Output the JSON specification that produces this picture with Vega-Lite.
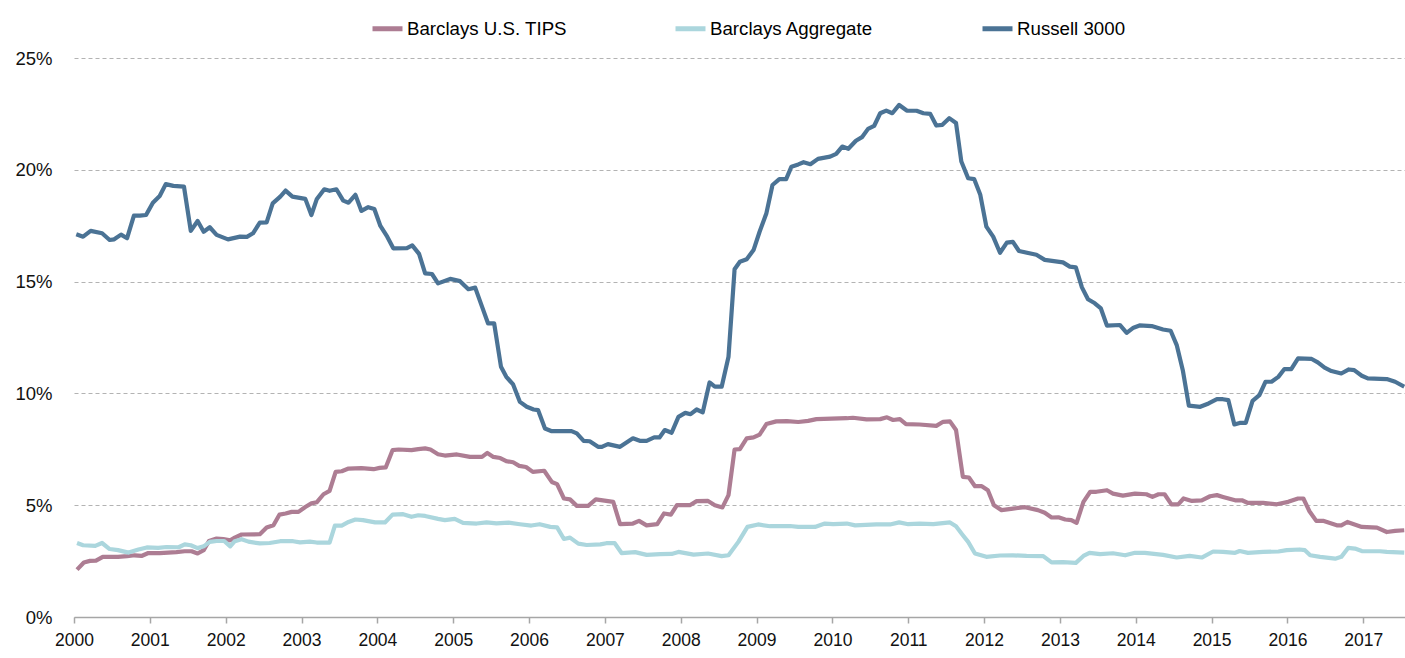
{
  "$schema": "https://vega.github.io/schema/vega-lite/v6.json",
  "autosize": {"type": "none"},
  "width": 1331,
  "height": 559,
  "padding": {"left": 74, "top": 58, "right": 0, "bottom": 41},
  "background": "white",
  "config": {
    "view": {"stroke": null},
    "font": "Liberation Sans, Arial, sans-serif"
  },
  "datasets": {
    "russell": [
      [2000.03,17.12],[2000.12,17.01],[2000.22,17.27],[2000.37,17.16],[2000.47,16.86],[2000.53,16.89],[2000.62,17.10],[2000.70,16.94],[2000.79,17.95],[2000.87,17.95],[2000.95,17.98],
      [2001.04,18.53],[2001.13,18.83],[2001.21,19.36],[2001.31,19.28],[2001.45,19.25],[2001.54,17.27],[2001.63,17.71],[2001.71,17.23],[2001.79,17.43],[2001.88,17.09],
      [2002.03,16.89],[2002.19,17.01],[2002.28,17.00],[2002.36,17.16],[2002.45,17.64],[2002.54,17.65],[2002.62,18.50],[2002.72,18.80],[2002.79,19.07],[2002.88,18.80],
      [2003.05,18.70],[2003.13,17.98],[2003.20,18.68],[2003.30,19.13],[2003.37,19.06],[2003.46,19.13],[2003.55,18.62],[2003.62,18.53],[2003.71,18.88],[2003.79,18.16],[2003.88,18.33],[2003.96,18.25],
      [2004.04,17.49],[2004.13,17.01],[2004.21,16.49],[2004.39,16.50],[2004.46,16.62],[2004.55,16.24],[2004.63,15.37],[2004.72,15.34],[2004.80,14.92],[2004.96,15.12],
      [2005.09,15.02],[2005.20,14.66],[2005.29,14.73],[2005.38,13.88],[2005.46,13.13],[2005.54,13.13],[2005.63,11.19],[2005.70,10.74],[2005.79,10.40],[2005.88,9.62],[2005.97,9.40],
      [2006.06,9.28],[2006.12,9.25],[2006.21,8.43],[2006.30,8.31],[2006.56,8.31],[2006.63,8.21],[2006.72,7.88],[2006.80,7.86],[2006.91,7.61],[2006.96,7.61],
      [2007.04,7.73],[2007.20,7.61],[2007.37,7.99],[2007.46,7.88],[2007.55,7.88],[2007.65,8.03],[2007.72,8.03],[2007.79,8.36],[2007.88,8.24],[2007.97,8.95],
      [2008.06,9.13],[2008.13,9.07],[2008.21,9.28],[2008.29,9.15],[2008.38,10.49],[2008.45,10.30],[2008.54,10.30],[2008.63,11.64],[2008.71,15.55],[2008.78,15.89],[2008.87,16.00],[2008.96,16.41],
      [2009.04,17.23],[2009.13,18.06],[2009.21,19.32],[2009.30,19.58],[2009.39,19.58],[2009.46,20.14],[2009.55,20.24],[2009.62,20.34],[2009.71,20.25],[2009.81,20.49],[2009.97,20.59],
      [2010.05,20.71],[2010.13,21.04],[2010.21,20.94],[2010.31,21.30],[2010.39,21.46],[2010.47,21.83],[2010.55,21.96],[2010.63,22.53],[2010.71,22.65],[2010.79,22.53],[2010.88,22.90],[2010.98,22.65],
      [2011.11,22.64],[2011.20,22.53],[2011.29,22.50],[2011.37,21.98],[2011.45,22.01],[2011.54,22.31],[2011.63,22.09],[2011.70,20.37],[2011.79,19.62],[2011.87,19.58],[2011.95,18.88],
      [2012.03,17.46],[2012.12,17.01],[2012.21,16.29],[2012.30,16.74],[2012.38,16.78],[2012.46,16.37],[2012.69,16.20],[2012.80,15.97],
      [2013.04,15.86],[2013.13,15.67],[2013.21,15.64],[2013.29,14.74],[2013.37,14.21],[2013.46,14.03],[2013.54,13.80],[2013.62,13.03],[2013.79,13.06],[2013.88,12.71],[2013.97,12.94],
      [2014.05,13.04],[2014.21,13.01],[2014.36,12.86],[2014.46,12.80],[2014.54,12.16],[2014.62,11.04],[2014.70,9.45],[2014.85,9.40],[2014.96,9.55],
      [2015.07,9.74],[2015.15,9.74],[2015.22,9.70],[2015.30,8.61],[2015.37,8.68],[2015.45,8.68],[2015.54,9.67],[2015.63,9.92],[2015.71,10.52],[2015.79,10.52],[2015.88,10.74],[2015.96,11.09],
      [2016.05,11.09],[2016.14,11.57],[2016.32,11.54],[2016.40,11.39],[2016.49,11.15],[2016.58,11.00],[2016.71,10.89],[2016.81,11.07],[2016.88,11.04],[2016.98,10.79],
      [2017.06,10.67],[2017.31,10.64],[2017.42,10.52],[2017.54,10.30]
    ],
    "tips": [
      [2000.04,2.12],[2000.13,2.44],[2000.21,2.51],[2000.29,2.52],[2000.38,2.69],[2000.58,2.69],[2000.70,2.72],[2000.80,2.76],[2000.89,2.73],[2000.98,2.86],
      [2001.13,2.86],[2001.35,2.90],[2001.46,2.94],[2001.55,2.94],[2001.63,2.84],[2001.71,2.99],[2001.78,3.40],[2001.88,3.51],[2001.97,3.48],
      [2002.06,3.43],[2002.12,3.55],[2002.21,3.69],[2002.45,3.70],[2002.54,4.00],[2002.63,4.10],[2002.71,4.58],[2002.79,4.63],[2002.87,4.70],[2002.96,4.70],
      [2003.05,4.92],[2003.13,5.08],[2003.20,5.13],[2003.29,5.49],[2003.37,5.64],[2003.45,6.49],[2003.53,6.52],[2003.62,6.64],[2003.79,6.66],[2003.95,6.61],
      [2004.03,6.67],[2004.11,6.69],[2004.20,7.46],[2004.28,7.49],[2004.45,7.46],[2004.54,7.51],[2004.63,7.54],[2004.70,7.49],[2004.80,7.28],[2004.89,7.22],
      [2005.05,7.27],[2005.22,7.16],[2005.38,7.16],[2005.45,7.34],[2005.53,7.16],[2005.62,7.11],[2005.70,6.97],[2005.79,6.92],[2005.87,6.76],[2005.96,6.71],
      [2006.05,6.49],[2006.20,6.54],[2006.30,6.04],[2006.37,5.94],[2006.46,5.30],[2006.54,5.26],[2006.63,4.97],[2006.78,4.97],[2006.88,5.26],
      [2007.11,5.15],[2007.20,4.15],[2007.37,4.18],[2007.45,4.30],[2007.55,4.10],[2007.69,4.15],[2007.78,4.63],[2007.87,4.58],[2007.95,5.00],
      [2008.12,5.00],[2008.21,5.18],[2008.36,5.19],[2008.45,5.00],[2008.55,4.90],[2008.63,5.45],[2008.71,7.49],[2008.78,7.51],[2008.87,7.99],[2008.96,8.03],
      [2009.04,8.16],[2009.13,8.63],[2009.26,8.75],[2009.40,8.76],[2009.55,8.72],[2009.68,8.77],[2009.79,8.85],
      [2010.19,8.89],[2010.27,8.91],[2010.45,8.84],[2010.63,8.85],[2010.72,8.93],[2010.80,8.81],[2010.89,8.85],[2010.97,8.63],
      [2011.15,8.61],[2011.37,8.55],[2011.46,8.73],[2011.55,8.75],[2011.63,8.36],[2011.72,6.27],[2011.80,6.24],[2011.88,5.85],[2011.97,5.85],
      [2012.05,5.67],[2012.13,5.00],[2012.23,4.78],[2012.38,4.85],[2012.54,4.91],[2012.71,4.78],[2012.80,4.66],[2012.89,4.45],[2012.98,4.46],
      [2013.07,4.36],[2013.15,4.33],[2013.22,4.21],[2013.31,5.15],[2013.40,5.60],[2013.48,5.60],[2013.62,5.67],[2013.70,5.52],[2013.83,5.43],[2013.99,5.52],
      [2014.14,5.49],[2014.22,5.37],[2014.30,5.49],[2014.38,5.49],[2014.47,5.04],[2014.56,5.04],[2014.63,5.30],[2014.74,5.19],[2014.87,5.22],[2014.98,5.40],
      [2015.07,5.45],[2015.15,5.37],[2015.31,5.22],[2015.40,5.22],[2015.48,5.10],[2015.68,5.10],[2015.86,5.04],
      [2016.01,5.15],[2016.14,5.30],[2016.21,5.30],[2016.29,4.73],[2016.38,4.30],[2016.47,4.30],[2016.65,4.10],[2016.71,4.10],[2016.79,4.25],[2016.98,4.03],
      [2017.18,4.00],[2017.31,3.80],[2017.42,3.85],[2017.54,3.88]
    ],
    "agg": [
      [2000.04,3.31],[2000.12,3.21],[2000.28,3.18],[2000.37,3.31],[2000.47,3.04],[2000.58,2.99],[2000.72,2.88],[2000.85,3.02],[2000.96,3.11],
      [2001.11,3.09],[2001.22,3.13],[2001.38,3.12],[2001.46,3.25],[2001.54,3.21],[2001.63,3.08],[2001.71,3.16],[2001.79,3.36],[2001.88,3.40],[2001.98,3.40],
      [2002.06,3.16],[2002.12,3.39],[2002.21,3.48],[2002.30,3.37],[2002.45,3.29],[2002.58,3.31],[2002.72,3.39],[2002.89,3.39],[2002.98,3.34],
      [2003.11,3.37],[2003.20,3.33],[2003.37,3.33],[2003.44,4.09],[2003.53,4.09],[2003.62,4.25],[2003.71,4.36],[2003.81,4.33],[2003.97,4.23],
      [2004.10,4.23],[2004.20,4.58],[2004.34,4.60],[2004.45,4.48],[2004.54,4.55],[2004.63,4.52],[2004.80,4.39],[2004.89,4.33],
      [2005.02,4.39],[2005.13,4.21],[2005.31,4.18],[2005.44,4.23],[2005.57,4.19],[2005.73,4.22],[2005.88,4.15],
      [2006.03,4.09],[2006.14,4.15],[2006.28,4.03],[2006.37,4.01],[2006.46,3.49],[2006.54,3.55],[2006.65,3.28],[2006.76,3.22],[2006.94,3.25],
      [2007.02,3.30],[2007.13,3.30],[2007.22,2.86],[2007.40,2.90],[2007.55,2.78],[2007.73,2.81],[2007.88,2.82],[2007.97,2.91],
      [2008.17,2.79],[2008.36,2.84],[2008.54,2.72],[2008.63,2.76],[2008.76,3.36],[2008.88,4.03],
      [2009.02,4.14],[2009.18,4.06],[2009.44,4.07],[2009.55,4.03],[2009.77,4.03],[2009.90,4.18],
      [2010.01,4.15],[2010.19,4.18],[2010.30,4.10],[2010.58,4.14],[2010.76,4.14],[2010.88,4.23],
      [2011.00,4.15],[2011.15,4.18],[2011.33,4.15],[2011.55,4.23],[2011.63,4.06],[2011.72,3.66],[2011.79,3.36],[2011.88,2.84],
      [2012.03,2.69],[2012.21,2.75],[2012.38,2.76],[2012.56,2.73],[2012.78,2.72],[2012.89,2.44],
      [2013.04,2.45],[2013.21,2.42],[2013.31,2.73],[2013.39,2.87],[2013.53,2.81],[2013.70,2.85],[2013.86,2.76],[2013.99,2.87],
      [2014.12,2.87],[2014.36,2.78],[2014.54,2.66],[2014.71,2.73],[2014.87,2.66],
      [2015.02,2.93],[2015.15,2.91],[2015.31,2.87],[2015.37,2.95],[2015.48,2.87],[2015.68,2.91],[2015.88,2.93],[2015.99,2.99],
      [2016.16,3.02],[2016.23,2.99],[2016.30,2.76],[2016.43,2.69],[2016.63,2.61],[2016.71,2.69],[2016.80,3.09],[2016.89,3.06],[2016.98,2.95],
      [2017.22,2.94],[2017.31,2.91],[2017.54,2.88]
    ]
  },
  "layer": [
    {
      "data": {"name": "tips"},
      "transform": [
        {"calculate": "datum[0]", "as": "t"},
        {"calculate": "datum[1]", "as": "v"},
        {"calculate": "'Barclays U.S. TIPS'", "as": "series"}
      ],
      "mark": {"type": "line", "strokeWidth": 4.2, "strokeJoin": "round"},
      "encoding": {
        "x": {"field": "t", "type": "quantitative", "scale": {"domain": [2000, 2017.55], "nice": false, "zero": false},
          "axis": {"title": null, "values": [2000,2001,2002,2003,2004,2005,2006,2007,2008,2009,2010,2011,2012,2013,2014,2015,2016,2017], "format": "d", "grid": false,
            "labelFlush": false, "labelOverlap": false,
            "domainColor": "#a6a6a6", "domainWidth": 1.5, "tickColor": "#a6a6a6", "tickSize": 6, "tickWidth": 1.5,
            "labelFontSize": 17.5, "labelColor": "#111", "labelPadding": 8, "labelFont": "Liberation Sans"}},
        "y": {"field": "v", "type": "quantitative", "scale": {"domain": [0, 25], "nice": false},
          "axis": {"title": null, "values": [0,5,10,15,20,25], "labelExpr": "datum.value + '%'", "domain": false, "ticks": false,
            "grid": true, "gridDash": [4, 3], "gridColor": "#b3b3b3", "gridWidth": 1,
            "labelFontSize": 18.5, "labelColor": "#111", "labelPadding": 22, "labelFont": "Liberation Sans"}},
        "color": {"field": "series", "type": "nominal",
          "scale": {"domain": ["Barclays U.S. TIPS", "Barclays Aggregate", "Russell 3000"], "range": ["#ad7d93", "#abd6dd", "#4b7395"]},
          "legend": {"title": null, "orient": "none", "direction": "horizontal", "legendX": 296, "legendY": -47,
            "symbolType": "stroke", "symbolSize": 900, "symbolStrokeWidth": 5, "labelFontSize": 18.7, "labelColor": "#000",
            "labelFont": "Liberation Sans", "labelOffset": 2, "columnPadding": 98, "labelLimit": 400, "padding": 0}}
      }
    },
    {
      "data": {"name": "agg"},
      "transform": [
        {"calculate": "datum[0]", "as": "t"},
        {"calculate": "datum[1]", "as": "v"},
        {"calculate": "'Barclays Aggregate'", "as": "series"}
      ],
      "mark": {"type": "line", "strokeWidth": 4.2, "strokeJoin": "round"},
      "encoding": {
        "x": {"field": "t", "type": "quantitative"},
        "y": {"field": "v", "type": "quantitative"},
        "color": {"field": "series", "type": "nominal"}
      }
    },
    {
      "data": {"name": "russell"},
      "transform": [
        {"calculate": "datum[0]", "as": "t"},
        {"calculate": "datum[1]", "as": "v"},
        {"calculate": "'Russell 3000'", "as": "series"}
      ],
      "mark": {"type": "line", "strokeWidth": 4.2, "strokeJoin": "round"},
      "encoding": {
        "x": {"field": "t", "type": "quantitative"},
        "y": {"field": "v", "type": "quantitative"},
        "color": {"field": "series", "type": "nominal"}
      }
    }
  ]
}
